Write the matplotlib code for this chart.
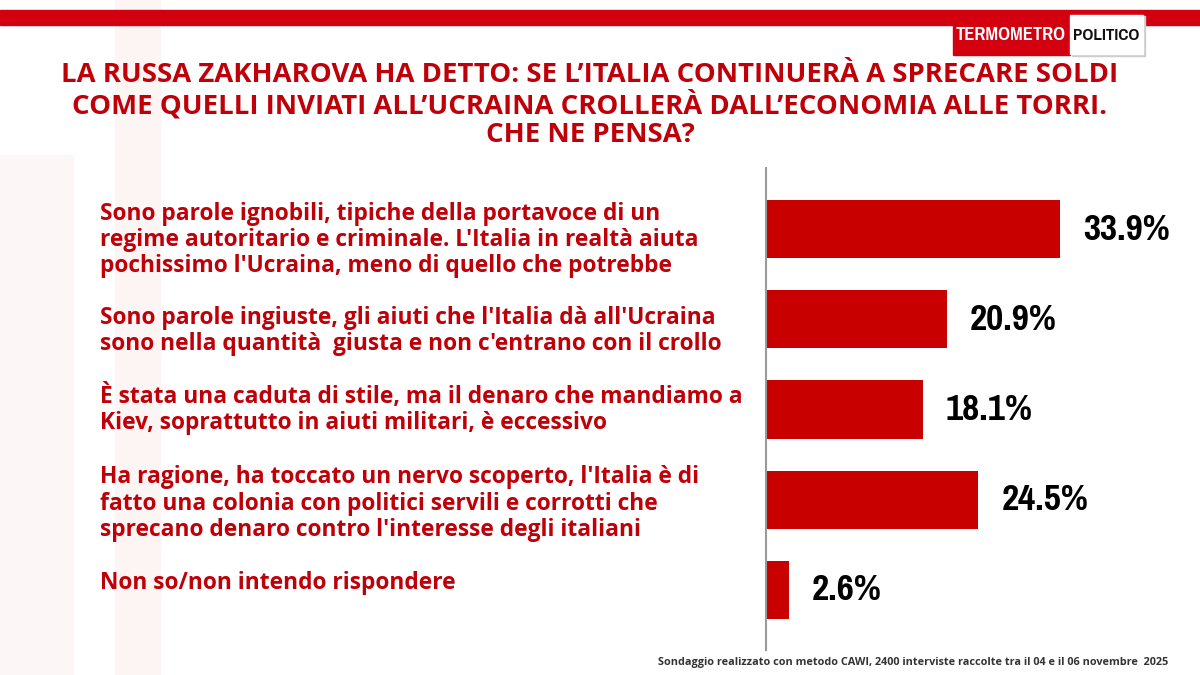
import os
import matplotlib.pyplot as plt
from matplotlib import font_manager
from matplotlib.font_manager import FontProperties
from matplotlib.patches import Rectangle
from matplotlib.transforms import blended_transform_factory

answers = [
    "Sono parole ignobili, tipiche della portavoce di un\nregime autoritario e criminale. L'Italia in realtà aiuta\npochissimo l'Ucraina, meno di quello che potrebbe",
    "Sono parole ingiuste, gli aiuti che l'Italia dà all'Ucraina\nsono nella quantità  giusta e non c'entrano con il crollo",
    "È stata una caduta di stile, ma il denaro che mandiamo a\nKiev, soprattutto in aiuti militari, è eccessivo",
    "Ha ragione, ha toccato un nervo scoperto, l'Italia è di\nfatto una colonia con politici servili e corrotti che\nsprecano denaro contro l'interesse degli italiani",
    "Non so/non intendo rispondere",
]
values = [33.9, 20.9, 18.1, 24.5, 2.6]

title_lines = ["LA RUSSA ZAKHAROVA HA DETTO: SE L’ITALIA CONTINUERÀ A SPRECARE SOLDI",
               "COME QUELLI INVIATI ALL’UCRAINA CROLLERÀ DALL’ECONOMIA ALLE TORRI.",
               "CHE NE PENSA?"]
note = "Sondaggio realizzato con metodo CAWI, 2400 interviste raccolte tra il 04 e il 06 novembre  2025"

# vertical nudge of each answer text against its bar, in pixels
label_shift = [11, 12, 0, 4, -7]

RED = '#c80000'
TXT = '#bf0008'

files = [f.fname for f in font_manager.fontManager.ttflist]

def find_file(keys):
    for key in keys:
        hits = [p for p in files if os.path.basename(p).lower().startswith(key)]
        if hits:
            return sorted(hits)[0]
    return None

# narrow bold face for numbers and logo, wide bold face for the texts
narrow_file = None
for key in ['narrow-bold', 'narrowbold', 'condensed-bold', 'condensedbold', 'condensed']:
    hits = [p for p in files if key in p.lower()]
    if hits:
        narrow_file = sorted(hits)[0]
        break
bold_file = find_file(['montserrat-bold.', 'opensans-bold.', 'notosans-bold.', 'lato-bold.',
                       'roboto-bold.', 'liberationsans-bold.', 'dejavusans-bold.'])

def narrow_fp(size):
    if narrow_file:
        return FontProperties(fname=narrow_file, size=size)
    return FontProperties(family='DejaVu Sans', weight='bold', stretch='condensed', size=size)

def bold_fp(size):
    if bold_file:
        return FontProperties(fname=bold_file, size=size)
    return FontProperties(family='DejaVu Sans', weight='bold', size=size)

fig = plt.figure(figsize=(12, 6.75), dpi=100)
W, H = 1200, 675
renderer = fig.canvas.get_renderer()

def fx(px):
    return px / W

def fy(py):
    return 1 - py / H

def fit(t, target):
    # scale the font so the text's width is target pixels
    w = t.get_window_extent(renderer).width
    t.set_fontsize(t.get_fontsize() * target / w)
    return t.get_fontsize()

# faint watermark in the background
fig.patches.append(Rectangle((fx(115), 0), fx(45), 1, transform=fig.transFigure,
                             color='#fdf4f4', zorder=0))
fig.patches.append(Rectangle((0, 0), fx(73), fy(155), transform=fig.transFigure,
                             color='#fdf6f6', zorder=0))

# top red band
fig.patches.append(Rectangle((0, fy(25)), 1, 15 / H, transform=fig.transFigure,
                             color='#d3000f', zorder=1))

# logo
fig.patches.append(Rectangle((fx(1072), fy(56)), fx(73), 40 / H, transform=fig.transFigure,
                             color='#cccccc', zorder=2))
fig.patches.append(Rectangle((fx(953), fy(55)), fx(117), 41 / H, transform=fig.transFigure,
                             color='#d3000f', zorder=3))
fig.patches.append(Rectangle((fx(1070), fy(54)), fx(73), 39 / H, transform=fig.transFigure,
                             color='white', zorder=3))
t = fig.text(fx(1011), fy(35), "TERMOMETRO", color='white', fontproperties=narrow_fp(18),
             ha='center', va='center', zorder=4)
fit(t, 110)
t = fig.text(fx(1106), fy(35), "POLITICO", color='#111111', fontproperties=narrow_fp(18),
             ha='center', va='center', zorder=4)
fit(t, 66)

# title, one line at a time
title_size = None
for k, line in enumerate(title_lines):
    t = fig.text(fx(590), fy(75 + 30 * k), line, color=TXT, fontproperties=bold_fp(16),
                 ha='center', va='center', zorder=4)
    if title_size is None:
        title_size = fit(t, 1056)
    else:
        t.set_fontsize(title_size)

# bars
ax = fig.add_axes([fx(766), fy(650), 434 / W, 482 / H])
ax.set_zorder(5)
ax.set_facecolor('none')
pos = list(range(len(values)))
ax.barh(pos, values, height=0.643, color=RED, zorder=2)
ax.set_xlim(0, 434 / 8.67)
ax.set_ylim(4.665, -0.676)
for s in ['top', 'right', 'bottom']:
    ax.spines[s].set_visible(False)
ax.spines['left'].set_color('#9a9a9a')
ax.spines['left'].set_linewidth(1.5)
ax.set_xticks([])
ax.set_yticks([])

num_size = None
for i, v in enumerate(values):
    t = ax.text(v + 2.65, i, f"{v}%", va='center', ha='left', fontproperties=narrow_fp(24),
                color='black')
    if num_size is None:
        num_size = fit(t, 87)
    else:
        t.set_fontsize(num_size)

tr = blended_transform_factory(fig.transFigure, ax.transData)
probe = fig.text(0, 0, answers[0].split('\n')[0], fontproperties=bold_fp(14))
lab_size = fit(probe, 565)
probe.remove()
px_per_unit = 482 / (4.665 + 0.676)
for i, a in enumerate(answers):
    ax.text(fx(100), i + label_shift[i] / px_per_unit, a, transform=tr, va='center',
            ha='left', fontproperties=bold_fp(lab_size), color=TXT, linespacing=1.13)

t = fig.text(fx(1168), fy(663), note, ha='right', va='center', fontproperties=bold_fp(7),
             color='#333333')
fit(t, 510)

fig.savefig('out.png', dpi=100)
